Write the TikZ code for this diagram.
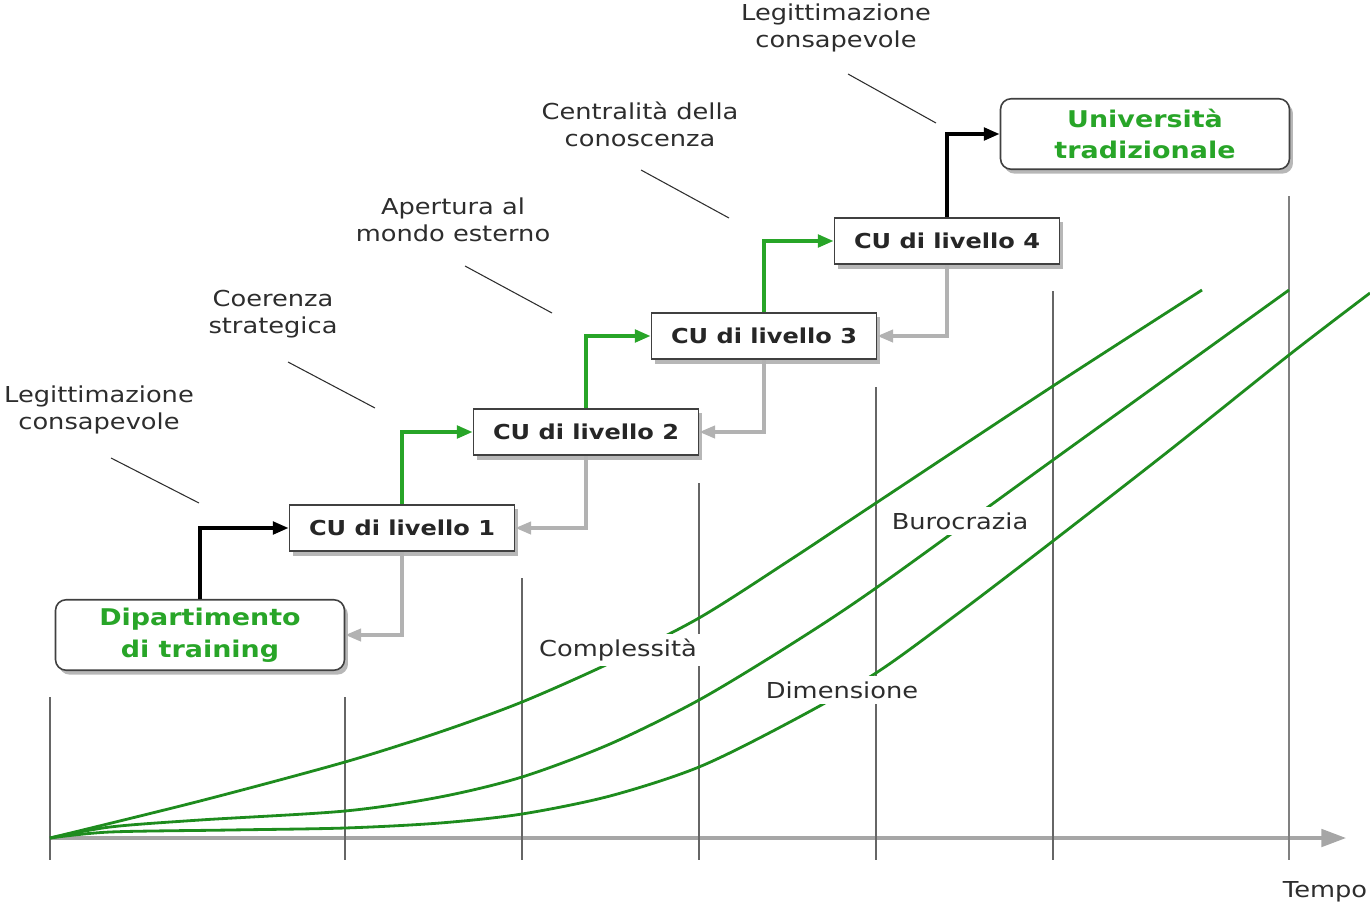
\documentclass[tikz,border=0pt]{standalone}
\usepackage{fontspec}
\setmainfont{DejaVu Sans}[FakeStretch=1.17]
\usetikzlibrary{positioning,calc,arrows.meta,shadows}
\definecolor{cugreen}{RGB}{40,165,40}
\definecolor{curvegreen}{RGB}{30,140,30}
\definecolor{txtgray}{RGB}{45,45,45}

\begin{document}
\begin{tikzpicture}[x=0.02cm,y=-0.02cm,>={Triangle[length=9pt,width=7pt]},
  every node/.style={font=\fontsize{12.5}{15.3}\selectfont,text=txtgray},
  boxshadow/.style={drop shadow={shadow xshift=2pt,shadow yshift=-2.5pt,opacity=0.4,fill=black!70}},
  level/.style={rectangle,draw=black!75,line width=0.9pt,fill=white,boxshadow,
    minimum width=4.5cm,minimum height=0.93cm,font=\bfseries\fontsize{11.7}{14}\selectfont,text=black!85},
  stage/.style={rectangle,rounded corners=6pt,draw=black!75,line width=0.9pt,fill=white,boxshadow,
    minimum width=5.78cm,minimum height=1.41cm,align=center,
    font=\bfseries\fontsize{13.1}{18}\selectfont,text=cugreen},
  note/.style={align=center},
  curvelab/.style={fill=white,inner sep=3pt},
  lead/.style={draw=txtgray,line width=0.6pt},
  tickline/.style={draw=black!60,line width=1pt},
  growline/.style={draw=curvegreen,line width=1.6pt},
  upk/.style={->,line width=2.2pt},
  upg/.style={->,line width=2.2pt,draw=cugreen},
  back/.style={->,line width=1.8pt,draw=black!30}]
  \useasboundingbox (0,0) rectangle (1370,910);

  % time axis
  \draw[draw=black!35,line width=1.8pt,
    -{Triangle[length=14pt,width=10pt]}] (50,838) -- (1346,838);
  \foreach \x/\top in {50/697,345/697,522/578,699/483,876/387,1053/291}
    \draw[tickline] (\x,\top) -- (\x,860);
  \draw[tickline,draw=black!50,line width=1.3pt] (1289,196) -- (1289,860);
  \node (tempo) at (1325,892) {Tempo};

  % growth curves
  \draw[growline] plot[smooth,tension=0.5] coordinates
    {(50,838) (200,801) (345,762) (440,732) (522,702) (610,663) (699,618)
     (790,560) (876,503) (1053,386) (1202,290)};
  \draw[growline] plot[smooth,tension=0.5] coordinates
    {(50,838) (110,827) (200,820) (345,811) (440,797) (522,777) (610,744)
     (699,700) (790,645) (876,588) (1053,460) (1289,290)};
  \draw[growline] plot[smooth,tension=0.5] coordinates
    {(50,838) (110,832) (230,830) (345,828) (440,823) (522,814) (610,796)
     (699,767) (790,722) (876,673) (960,612) (1053,541) (1170,450) (1289,355) (1370,293)};
  \node[curvelab] (compl) at (618,650) {Complessità};
  \node[curvelab] (buro) at (960,521) {Burocrazia};
  \node[curvelab] (dimen) at (842,690) {Dimensione};

  % stages
  \node[stage] (dip) at (200,635) {Dipartimento\\di training};
  \node[level] (cu1) at (402,528) {CU di livello 1};
  \node[level] (cu2) at (586,432) {CU di livello 2};
  \node[level] (cu3) at (764,336) {CU di livello 3};
  \node[level] (cu4) at (947,241) {CU di livello 4};
  \node[stage] (univ) at (1145,134) {Università\\tradizionale};

  \draw[upk] (dip.north) |- (cu1.west);
  \draw[upg] (cu1.north) |- (cu2.west);
  \draw[upg] (cu2.north) |- (cu3.west);
  \draw[upg] (cu3.north) |- (cu4.west);
  \draw[upk] (cu4.north) |- (univ.west);
  \draw[back] (cu1.south) |- (dip.east);
  \draw[back] (cu2.south) |- (cu1.east);
  \draw[back] (cu3.south) |- (cu2.east);
  \draw[back] (cu4.south) |- (cu3.east);

  % driving factors
  \node[note] (f1) at (99,410) {Legittimazione\\consapevole};
  \node[note] (f2) at (273,314) {Coerenza\\strategica};
  \node[note] (f3) at (453,220) {Apertura al\\mondo esterno};
  \node[note] (f4) at (640,124) {Centralità della\\conoscenza};
  \node[note] (f5) at (836,28) {Legittimazione\\consapevole};
  \draw[lead] (111,458) -- (199,503);
  \draw[lead] (288,362) -- (375,408);
  \draw[lead] (465,266) -- (552,313);
  \draw[lead] (641,170) -- (729,218);
  \draw[lead] (848,74) -- (936,123);
\end{tikzpicture}
\end{document}
